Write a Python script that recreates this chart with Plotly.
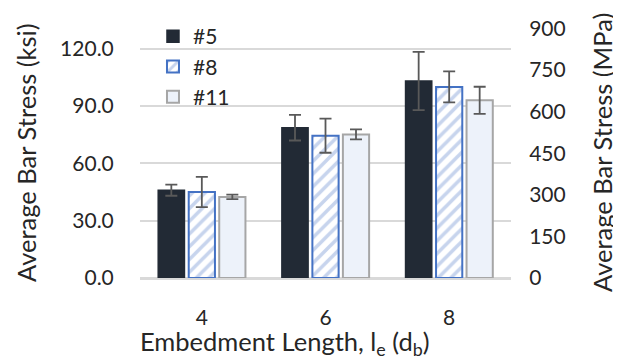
import plotly.graph_objects as go

categories = ["4", "6", "8"]
series_names = ["#5", "#8", "#11"]
stress_5 = [45.9, 78.6, 103.0]
stress_8 = [45.0, 74.4, 99.9]
stress_11 = [42.4, 75.1, 92.9]
err_5 = [2.9, 6.7, 15.2]
err_8 = [7.9, 8.9, 8.1]
err_11 = [1.2, 2.6, 7.1]
left_ticks = [0, 30, 60, 90, 120]
right_ticks = [0, 150, 300, 450, 600, 750, 900]
KSI_TO_MPA = 6.89476

FONT = "Lato"
TXT = "#262626"
GRID = "#D9D9D9"
TICK_SIZE = 21
TITLE_SIZE = 25.5

fig = go.Figure()
err_style = dict(type="data", color="#595959", thickness=1.8, width=6)

fig.add_trace(go.Bar(
    x=categories, y=stress_5, name=series_names[0],
    marker=dict(color="#222A35", line=dict(color="#222A35", width=1.5)),
    error_y=dict(array=err_5, **err_style),
))
fig.add_trace(go.Bar(
    x=categories, y=stress_8, name=series_names[1],
    marker=dict(color="#FFFFFF", line=dict(color="#4472C4", width=2),
                pattern=dict(shape="/", fgcolor="#8FAADC", bgcolor="#FFFFFF",
                             size=9, solidity=0.4, fillmode="overlay")),
    error_y=dict(array=err_8, **err_style),
))
fig.add_trace(go.Bar(
    x=categories, y=stress_11, name=series_names[2],
    marker=dict(color="#EDF2FA", line=dict(color="#A6A6A6", width=2)),
    error_y=dict(array=err_11, **err_style),
))
# invisible trace on the secondary (MPa) axis
fig.add_trace(go.Scatter(
    x=categories, y=[v * KSI_TO_MPA for v in stress_5], yaxis="y2",
    mode="markers", marker=dict(opacity=0), showlegend=False, hoverinfo="skip",
))

# the page body has an 8px margin, so the figure is made 8px smaller
fig.update_layout(
    width=613, height=352,
    margin=dict(l=132, r=110, t=8, b=82, autoexpand=False),
    paper_bgcolor="white", plot_bgcolor="white",
    font=dict(family=FONT, size=TICK_SIZE, color=TXT),
    barmode="group", bargap=0.26, bargroupgap=0.14,
    showlegend=True,
    legend=dict(x=0.035, y=1.0, xanchor="left", yanchor="top",
                bgcolor="rgba(0,0,0,0)", font=dict(size=TICK_SIZE, color=TXT),
                itemwidth=30, tracegroupgap=0),
    xaxis=dict(
        automargin=False,
        showline=True, linecolor=GRID, linewidth=1.5,
        ticks="outside", ticklen=20, tickcolor="rgba(0,0,0,0)",
        tickfont=dict(size=TICK_SIZE, color=TXT),
    ),
    yaxis=dict(
        automargin=False,
        range=[0, 137], tickvals=left_ticks, ticktext=[f"{v:.1f}" for v in left_ticks],
        showgrid=True, gridcolor=GRID, gridwidth=1.5,
        zeroline=True, zerolinecolor=GRID, zerolinewidth=1.5,
        ticks="outside", ticklen=21, tickcolor="rgba(0,0,0,0)",
        tickfont=dict(size=TICK_SIZE, color=TXT),
    ),
    yaxis2=dict(
        automargin=False,
        overlaying="y", side="right", range=[0, 137 * KSI_TO_MPA],
        tickvals=right_ticks, showgrid=False, zeroline=False,
        ticks="outside", ticklen=13, tickcolor="rgba(0,0,0,0)",
        tickfont=dict(size=TICK_SIZE, color=TXT),
    ),
    annotations=[
        dict(text="Average Bar Stress (ksi)", textangle=-90, showarrow=False,
             xref="paper", yref="paper", x=0, y=0.5, xshift=-114, yshift=-6,
             xanchor="center", yanchor="middle",
             font=dict(size=TITLE_SIZE, color=TXT)),
        dict(text="Average Bar Stress (MPa)", textangle=-90, showarrow=False,
             xref="paper", yref="paper", x=1, y=0.5, xshift=91, yshift=-6,
             xanchor="center", yanchor="middle",
             font=dict(size=TITLE_SIZE, color=TXT)),
        dict(text="Embedment Length, l<sub>e</sub> (d<sub>b</sub>)", showarrow=False,
             xref="paper", yref="paper", x=0.5, y=0, xshift=-41, yshift=-65,
             xanchor="center", yanchor="middle",
             font=dict(size=TITLE_SIZE, color=TXT)),
    ],
)

fig.write_html("out.html")
